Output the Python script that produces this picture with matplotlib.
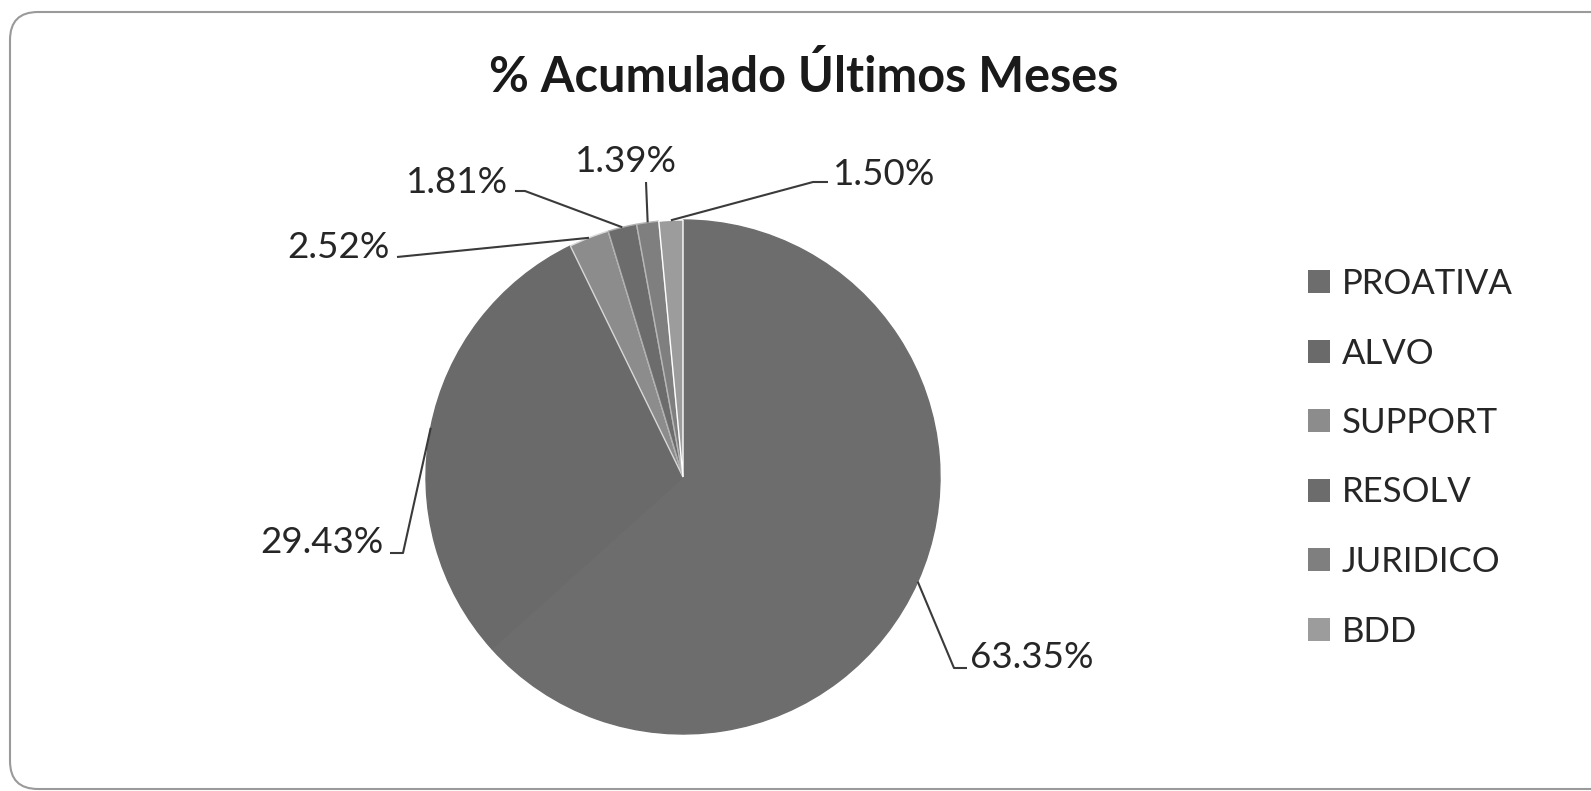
import matplotlib
matplotlib.use('Agg')
import matplotlib.pyplot as plt
from matplotlib.patches import FancyBboxPatch
from matplotlib.transforms import IdentityTransform
import numpy as np

categories = ['PROATIVA', 'ALVO', 'SUPPORT', 'RESOLV', 'JURIDICO', 'BDD']
values = [63.35, 29.43, 2.52, 1.81, 1.39, 1.50]
labels = ['63.35%', '29.43%', '2.52%', '1.81%', '1.39%', '1.50%']
colors = ['#6d6d6d', '#6a6a6a', '#8c8c8c', '#6c6c6c', '#7f7f7f', '#9c9c9c']
edge_colors = ['#6d6d6d', '#6a6a6a', '#d8d8d8', '#b0b0b0', '#b8b8b8', '#ffffff']
title = '% Acumulado Últimos Meses'

plt.rcParams['font.family'] = ['Lato', 'DejaVu Sans']

W, H = 1591, 791
fig = plt.figure(figsize=(W / 100, H / 100), dpi=100)
fig.patch.set_facecolor('white')

cx, cy, R = 683, 477, 257
ax = fig.add_axes([0, 0, 1, 1])
wedges, _ = ax.pie(values, colors=colors, startangle=90, counterclock=False,
                   radius=1, wedgeprops=dict(linewidth=1.0))
for w, ec in zip(wedges, edge_colors):
    w.set_edgecolor(ec)
ax.set_aspect('auto')
ax.set_xlim(-cx / R, (W - cx) / R)
ax.set_ylim(-(H - cy) / R, cy / R)
ax.axis('off')


def P(px, py):
    return ((px - cx) / R, (cy - py) / R)


# layout of leader lines (pixel points) and label anchors
leader_pts = [
    [(954, 668), (967, 668)],
    [(403, 553), (390, 553)],
    [(397, 257)],
    [(525, 191), (515, 191)],
    [(646, 182)],
    [(813, 182), (828, 182)],
]
text_pos = [(970, 668), (384, 553), (390, 258), (508, 193), (626, 172), (833, 185)]
text_ha = ['left', 'right', 'right', 'right', 'center', 'left']

for w, lab, pts, tp, ha in zip(wedges, labels, leader_pts, text_pos, text_ha):
    mid = np.deg2rad((w.theta1 + w.theta2) / 2)
    xs = [np.cos(mid)] + [P(*p)[0] for p in pts]
    ys = [np.sin(mid)] + [P(*p)[1] for p in pts]
    ax.plot(xs, ys, color='#3a3a3a', lw=1.5, solid_capstyle='butt')
    tx, ty = P(*tp)
    ax.text(tx, ty, lab, ha=ha, va='baseline', fontsize=26.5, color='#262626')

fig.text(804 / W, 1 - 76 / H, title, ha='center', va='center',
         fontsize=35, fontweight='bold', color='#1a1a1a')

leg = ax.legend([plt.Rectangle((0, 0), 1, 1, fc=c, ec='none') for c in colors], categories,
                loc='upper left',
                bbox_to_anchor=(1308 / W, 1 - 268 / H), bbox_transform=fig.transFigure,
                frameon=False, fontsize=25, handlelength=0.63, handleheight=0.63,
                handletextpad=0.35, labelspacing=1.08, borderpad=0, borderaxespad=0)
for t in leg.get_texts():
    t.set_color('#262626')

border = FancyBboxPatch((10, 2), 1620, 777, boxstyle='round,pad=0,rounding_size=28',
                        transform=IdentityTransform(), fill=False,
                        edgecolor='#9a9a9a', linewidth=1.5)
fig.patches.append(border)

fig.savefig('out.png', dpi=100, facecolor='white')
